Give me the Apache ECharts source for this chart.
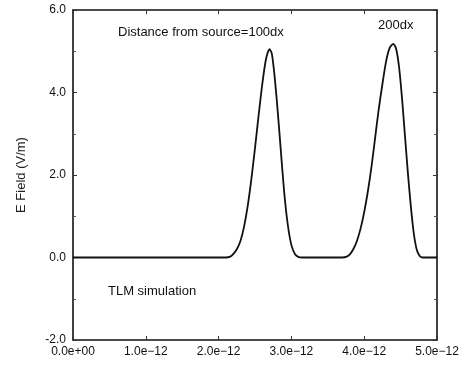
<!DOCTYPE html>
<html><head><meta charset="utf-8">
<script src="https://cdn.jsdelivr.net/npm/echarts@6/dist/echarts.min.js"></script>
<style>html,body{margin:0;padding:0;background:#fff}#c{width:463px;height:365px}</style>
</head><body><div id="c"></div>
<script>
// time in units of 1e-12 s
const timePs = [0, 2.1, 2.16, 2.2, 2.25, 2.3, 2.35, 2.4, 2.45, 2.5, 2.55, 2.6, 2.65, 2.7, 2.73, 2.76, 2.8, 2.85, 2.9, 2.95, 3.0, 3.05, 3.1, 3.15,
  3.7, 3.76, 3.8, 3.85, 3.9, 3.95, 4.0, 4.05, 4.1, 4.15, 4.2, 4.25, 4.3, 4.35, 4.4, 4.44, 4.48, 4.52, 4.56, 4.6, 4.64, 4.68, 4.72, 4.76, 4.8, 5.0];
const eField = [0, 0, 0.02, 0.08, 0.2, 0.4, 0.75, 1.25, 1.9, 2.65, 3.45, 4.2, 4.8, 5.05, 4.95, 4.55, 3.8, 2.7, 1.6, 0.8, 0.3, 0.08, 0.01, 0,
  0, 0.02, 0.07, 0.2, 0.4, 0.7, 1.1, 1.6, 2.2, 2.9, 3.6, 4.2, 4.75, 5.08, 5.18, 5.05, 4.6, 3.85, 2.95, 2.05, 1.25, 0.6, 0.2, 0.04, 0, 0];
const xTicks = [0, 1, 2, 3, 4, 5];
const yTicks = [-2, 0, 2, 4, 6];
const annotations = [
  {text: 'Distance from source=100dx', x: 118, y: 34},
  {text: '200dx', x: 378, y: 27},
  {text: 'TLM simulation', x: 108, y: 293}
];

const chart = echarts.init(document.getElementById('c'));
const font = 'Liberation Sans, Arial, sans-serif';
const frame = () => ({show: true, onZero: false, lineStyle: {color: '#111', width: 1.6}});
const tick = () => ({show: true, inside: true, length: 4, lineStyle: {color: '#333'}});
const minor = () => ({show: true, splitNumber: 2, length: 3, lineStyle: {color: '#555'}});
const xFmt = v => v === 0 ? '0.0e+00' : v.toFixed(1) + 'e\u221212';
const xMin = xTicks[0], xMax = xTicks[xTicks.length - 1];
const yMin = yTicks[0], yMax = yTicks[yTicks.length - 1];
chart.setOption({
  backgroundColor: '#fff',
  animation: false,
  grid: {left: 73, right: 26, top: 10, bottom: 25},
  xAxis: [
    {type: 'value', min: xMin, max: xMax, interval: 1, axisLine: frame(), axisTick: tick(),
     splitLine: {show: false},
     axisLabel: {color: '#111', fontSize: 12, fontFamily: font, margin: 6, formatter: xFmt}},
    {type: 'value', position: 'top', min: xMin, max: xMax, interval: 1, axisLine: frame(), axisTick: tick(),
     splitLine: {show: false}, axisLabel: {show: false}}
  ],
  yAxis: [
    {type: 'value', min: yMin, max: yMax, interval: 2, axisLine: frame(), axisTick: tick(),
     minorTick: minor(),
     splitLine: {show: false},
     name: 'E Field (V/m)', nameLocation: 'middle', nameGap: 45,
     nameTextStyle: {color: '#222', fontSize: 13, fontFamily: font},
     axisLabel: {color: '#111', fontSize: 12, fontFamily: font, margin: 7, formatter: v => v.toFixed(1)}},
    {type: 'value', position: 'right', min: yMin, max: yMax, interval: 2, axisLine: frame(), axisTick: tick(),
     minorTick: minor(),
     splitLine: {show: false}, axisLabel: {show: false}}
  ],
  graphic: annotations.map(a => ({type: 'text', left: a.x, top: a.y - 8,
    style: {text: a.text, fill: '#111', font: '13px ' + font}})),
  series: [{
    type: 'line', xAxisIndex: 0, yAxisIndex: 0,
    data: timePs.map((t, i) => [t, eField[i]]),
    smooth: 0.25, showSymbol: false,
    lineStyle: {color: '#111', width: 1.8}
  }]
});
</script></body></html>
